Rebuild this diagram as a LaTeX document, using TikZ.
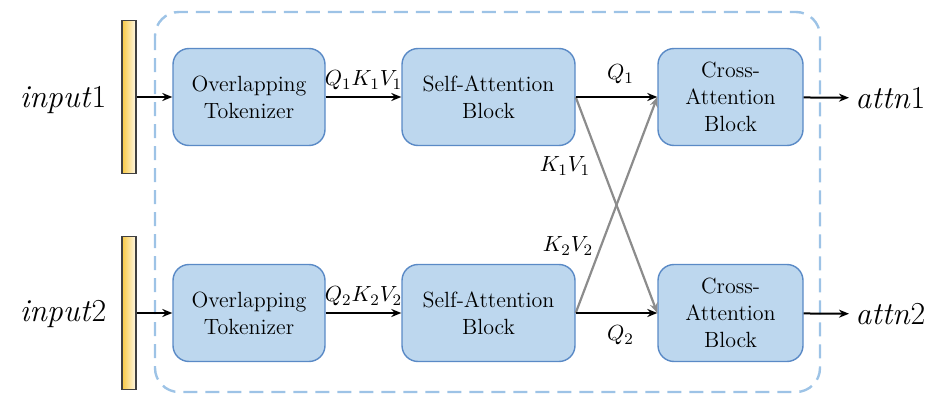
\documentclass[tikz,border=0pt]{standalone}
\usepackage{xcolor}
\usetikzlibrary{arrows.meta}
\definecolor{boxfill}{HTML}{BDD7EE}
\definecolor{boxline}{HTML}{5A8AC6}
\definecolor{dashline}{HTML}{9DC3E6}
\definecolor{bargold}{HTML}{F7C843}
\definecolor{barlight}{HTML}{FFF9E8}
\definecolor{crossgray}{HTML}{8C8C8C}

\tikzset{
  blockbox/.style={draw=boxline, line width=0.7pt, fill=boxfill, rounded corners=8pt,
    minimum height=48.5pt, align=center, font=\fontsize{11}{13.5}\selectfont},
  inbar/.style={draw=black!75, line width=0.6pt, left color=bargold, right color=barlight,
    minimum width=7pt, minimum height=76.5pt, inner sep=0pt},
  flow/.style={-{Stealth[length=5pt,width=4pt]}, line width=1pt},
  swap/.style={-{Stealth[length=5pt,width=4pt]}, line width=1.1pt, crossgray},
  tag/.style={font=\fontsize{11}{13}\selectfont, inner sep=1pt},
  io/.style={font=\fontsize{16}{19}\selectfont, inner sep=1pt}
}

\begin{document}
\begin{tikzpicture}[x=0.5pt, y=-0.5pt]
      \useasboundingbox (0,0) rectangle (928,396);
      \draw[dashline, line width=1.2pt, dash pattern=on 7pt off 4pt, rounded corners=12pt] (155,12) rectangle (820,392);

      % inputs
      \node[io] (in1) at (63,100) {\textit{input}1};
      \node[io] (in2) at (63,314) {\textit{input}2};
      \node[inbar] (bar1) at (129,97) {};
      \node[inbar] (bar2) at (129,313) {};

      % blocks
      \node[blockbox, minimum width=76pt] (tok1) at (249,97) {Overlapping\\Tokenizer};
      \node[blockbox, minimum width=76pt] (tok2) at (249,313) {Overlapping\\Tokenizer};
      \node[blockbox, minimum width=86.5pt] (sa1) at (488.5,97) {Self-Attention\\Block};
      \node[blockbox, minimum width=86.5pt] (sa2) at (488.5,313) {Self-Attention\\Block};
      \node[blockbox, minimum width=72.5pt] (ca1) at (730.5,97) {Cross-\\Attention\\Block};
      \node[blockbox, minimum width=72.5pt] (ca2) at (730.5,313) {Cross-\\Attention\\Block};

      % outputs
      \node[io, anchor=west, inner xsep=3pt] (out1) at (849,98) {\textit{attn}1};
      \node[io, anchor=west, inner xsep=3pt] (out2) at (849,314) {\textit{attn}2};

      % connectors
      \draw[flow] (bar1) -- (tok1);
      \draw[flow] (bar2) -- (tok2);
      \draw[flow] (tok1) -- node[tag, above=2pt] {$Q_1K_1V_1$} (sa1);
      \draw[flow] (tok2) -- node[tag, above=2pt] {$Q_2K_2V_2$} (sa2);
      \draw[swap] (sa1.east) -- (ca2.west);
      \draw[swap] (sa2.east) -- (ca1.west);
      \draw[flow] (sa1) -- node[tag, above=5pt, xshift=2pt] {$Q_1$} (ca1);
      \draw[flow] (sa2) -- node[tag, below=5pt, xshift=2pt] {$Q_2$} (ca2);
      \draw[flow] (ca1) -- (out1);
      \draw[flow] (ca2) -- (out2);

      % crossing labels
      \node[tag] (kv1) at (565,166) {$K_1V_1$};
      \node[tag] (kv2) at (568,246) {$K_2V_2$};
    \end{tikzpicture}
\end{document}
